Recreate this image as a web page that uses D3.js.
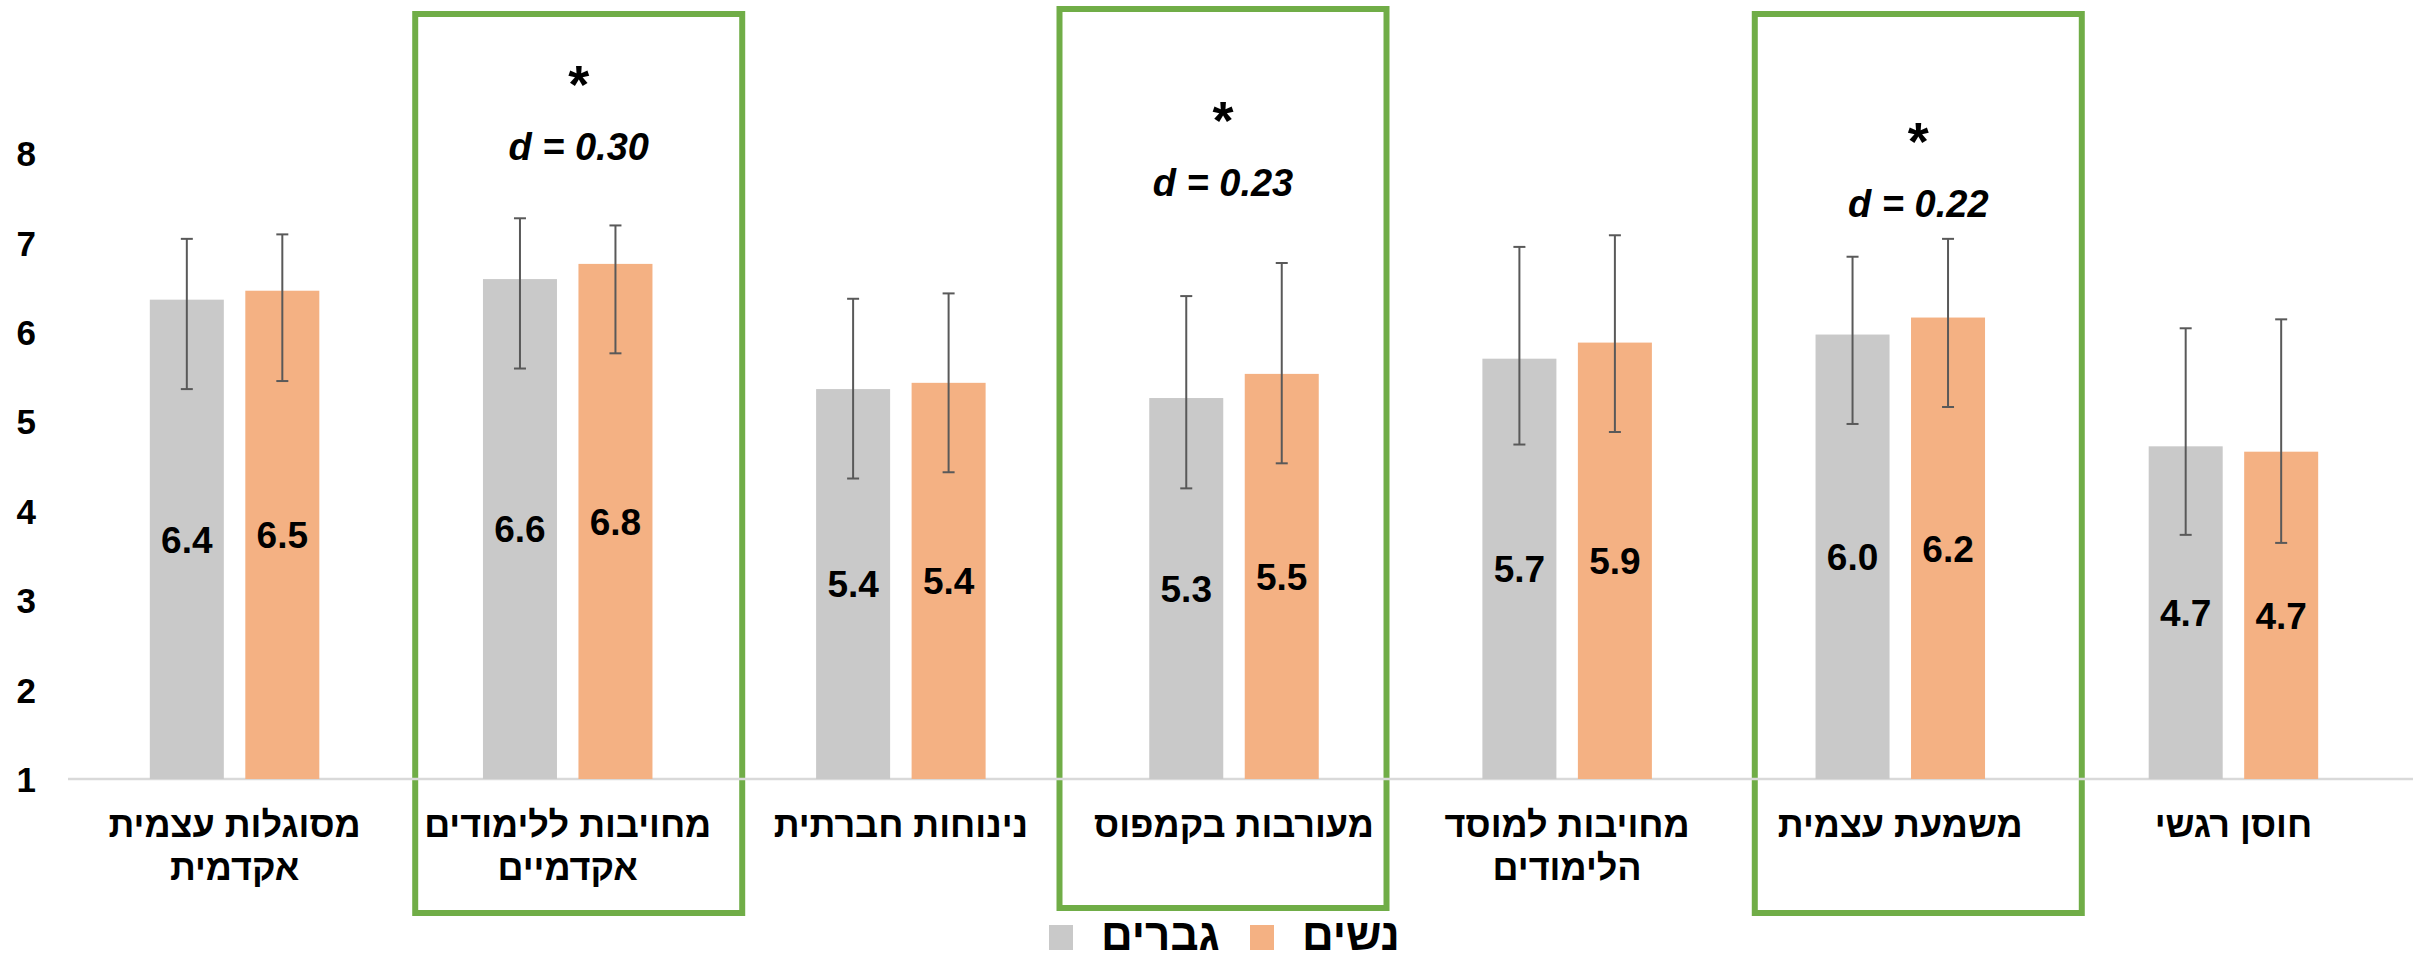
<!DOCTYPE html>
<html>
<head>
<meta charset="utf-8">
<script src="https://cdn.jsdelivr.net/npm/d3@7"></script>
<style>
  body { margin: 0; background: #fff; }
  text { font-family: "Liberation Sans", Arial, "DejaVu Sans", sans-serif; font-weight: bold; }
</style>
</head>
<body>
<div id="chart"></div>
<script>
const WIDTH = 2413;
const HEIGHT = 960;

// categories (two-line labels split by \n)
const categories = [
    "מסוגלות עצמית\nאקדמית",
    "מחויבות ללימודים\nאקדמיים",
    "נינוחות חברתית",
    "מעורבות בקמפוס",
    "מחויבות למוסד\nהלימודים",
    "משמעת עצמית",
    "חוסן רגשי"
];
const series = ["גברים", "נשים"];

// means
const menMean   = [6.36, 6.59, 5.36, 5.26, 5.70, 5.97, 4.72];
const womenMean = [6.46, 6.76, 5.43, 5.53, 5.88, 6.16, 4.66];

// error bar ends
const menErrHigh   = [7.04, 7.27, 6.37, 6.40, 6.95, 6.84, 6.04];
const menErrLow    = [5.36, 5.59, 4.36, 4.25, 4.74, 4.97, 3.73];
const womenErrHigh = [7.09, 7.19, 6.43, 6.77, 7.08, 7.04, 6.14];
const womenErrLow  = [5.45, 5.76, 4.43, 4.53, 4.88, 5.16, 3.64];

const yTicks = [1, 2, 3, 4, 5, 6, 7, 8];

// significant differences: category index, effect size, level of the d label (axis units)
const sigIndex = [1, 3, 5];
const sigD     = ["0.30", "0.23", "0.22"];
const sigLevel = [7.92, 7.52, 7.28];

const colors = ["#C9C9C9", "#F4B183"];

// hand-drawn boxes are a bit off-centre in the original
const boxNudge = [{dx: 11, dy: 0}, {dx: -11, dy: -5}, {dx: 18, dy: 0}];

const SVG = d3.select('#chart').append('svg')
    .attr('width', WIDTH).attr('height', HEIGHT);

SVG.append('rect').attr('width', WIDTH).attr('height', HEIGHT).attr('fill', '#fff');

// scales
const y = d3.scaleLinear().domain([1, 8]).range([779, 153]);
const x0 = d3.scaleBand().domain(categories).range([68, 2400]);
const GROUP_W = 169.5;
const x1 = d3.scaleBand().domain(series).range([0, GROUP_W]).paddingInner(0.225);
const groupOffset = (x0.bandwidth() - GROUP_W) / 2;

const means = [menMean, womenMean];
const hi = [menErrHigh, womenErrHigh];
const lo = [menErrLow, womenErrLow];

const rows = [];
categories.forEach((c, i) => {
    series.forEach((s, j) => {
        rows.push({cat: c, s: s, j: j, v: means[j][i], hi: hi[j][i], lo: lo[j][i]});
    });
});

// green highlight boxes
const g_boxes = SVG.append('g').attr('id', 'boxes');
sigIndex.forEach((ci, k) => {
    const cx = x0(categories[ci]) + x0.bandwidth() / 2 + boxNudge[k].dx;
    const bw = 327;
    g_boxes.append('rect')
        .attr('x', cx - bw / 2).attr('y', 14 + boxNudge[k].dy)
        .attr('width', bw).attr('height', 899)
        .attr('fill', 'none')
        .attr('stroke', '#70AD47').attr('stroke-width', 6);

    const dBase = y(sigLevel[k]);
    g_boxes.append('text')
        .attr('x', cx).attr('y', dBase)
        .attr('text-anchor', 'middle')
        .attr('font-size', 38).attr('font-style', 'italic')
        .attr('fill', '#000')
        .text('d = ' + sigD[k]);

    g_boxes.append('text')
        .attr('x', cx).attr('y', dBase - 57)
        .attr('text-anchor', 'middle')
        .attr('font-size', 54).attr('fill', '#000')
        .text('*');
});

// axis baseline
SVG.append('line')
    .attr('x1', 68).attr('x2', WIDTH)
    .attr('y1', y(1)).attr('y2', y(1))
    .attr('stroke', '#D9D9D9').attr('stroke-width', 2.5);

// y axis labels
const yAxis = d3.axisLeft(y).tickValues(yTicks).tickSize(0).tickPadding(32).tickFormat(d3.format('d'));
const g_y = SVG.append('g').attr('transform', 'translate(68,0)').call(yAxis);
g_y.select('.domain').remove();
g_y.selectAll('text')
    .attr('font-size', 35).attr('fill', '#000')
    .attr('font-family', '"Liberation Sans", Arial, sans-serif').attr('font-weight', 'bold')
    .attr('dy', '0.36em');

// bars
const g_bars = SVG.append('g').attr('id', 'bars');
g_bars.selectAll('rect').data(rows).join('rect')
    .attr('x', d => x0(d.cat) + groupOffset + x1(d.s))
    .attr('y', d => y(d.v))
    .attr('width', x1.bandwidth())
    .attr('height', d => y(1) - y(d.v))
    .attr('fill', d => colors[d.j]);

// error bars
const cxOf = d => x0(d.cat) + groupOffset + x1(d.s) + x1.bandwidth() / 2;
const g_err = SVG.append('g').attr('id', 'errors')
    .attr('stroke', '#595959').attr('stroke-width', 2);
g_err.selectAll('line.v').data(rows).join('line').attr('class', 'v')
    .attr('x1', cxOf).attr('x2', cxOf)
    .attr('y1', d => y(d.hi)).attr('y2', d => y(d.lo));
g_err.selectAll('line.top').data(rows).join('line').attr('class', 'top')
    .attr('x1', d => cxOf(d) - 6).attr('x2', d => cxOf(d) + 6)
    .attr('y1', d => y(d.hi)).attr('y2', d => y(d.hi));
g_err.selectAll('line.bot').data(rows).join('line').attr('class', 'bot')
    .attr('x1', d => cxOf(d) - 6).attr('x2', d => cxOf(d) + 6)
    .attr('y1', d => y(d.lo)).attr('y2', d => y(d.lo));

// value labels centred in the bars
SVG.append('g').selectAll('text').data(rows).join('text')
    .attr('x', cxOf)
    .attr('y', d => (y(d.v) + y(1)) / 2)
    .attr('dy', '0.36em')
    .attr('text-anchor', 'middle')
    .attr('font-size', 37).attr('fill', '#000')
    .text(d => d3.format('.1f')(d.v));

// category labels
const g_cat = SVG.append('g').attr('id', 'categories');
categories.forEach(c => {
    const t = g_cat.append('text')
        .attr('x', x0(c) + x0.bandwidth() / 2)
        .attr('y', 837)
        .attr('text-anchor', 'middle')
        .attr('font-size', 36).attr('fill', '#000');
    c.split('\n').forEach((line, li) => {
        t.append('tspan')
            .attr('x', x0(c) + x0.bandwidth() / 2)
            .attr('dy', li === 0 ? 0 : 43)
            .text(line);
    });
});

// legend
const g_leg = SVG.append('g').attr('id', 'legend').attr('transform', 'translate(1049, 925)');
const leg = g_leg.selectAll('g').data(series).join('g')
    .attr('transform', (d, i) => `translate(${i * 201}, 0)`);
leg.append('rect').attr('width', 24).attr('height', 25)
    .attr('fill', (d, i) => colors[i]);
leg.append('text').attr('x', 52).attr('y', 25)
    .attr('font-size', 44).attr('fill', '#000')
    .text(d => d);
</script>
</body>
</html>
